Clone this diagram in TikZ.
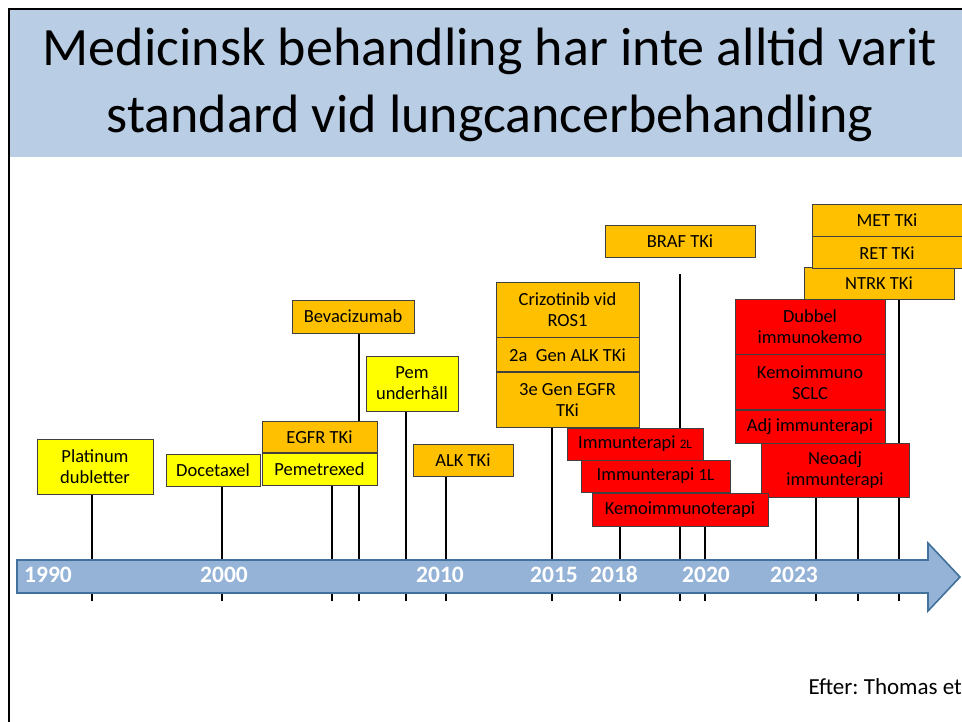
\documentclass[tikz,border=0pt]{standalone}
\usepackage{fontspec}
\setmainfont{Carlito}
\usetikzlibrary{positioning}
\definecolor{titleblue}{HTML}{B9CDE5}
\definecolor{axisblue}{HTML}{95B3D7}
\definecolor{axisedge}{HTML}{41719C}
\definecolor{cyellow}{HTML}{FFFF00}
\definecolor{corange}{HTML}{FFC000}
\definecolor{cred}{HTML}{FF0000}
\pgfdeclarelayer{bg}
\pgfsetlayers{bg,main}
\frenchspacing

\begin{document}
\begin{tikzpicture}[x=1pt,y=-1pt,
	box/.style={draw=black!75,line width=0.8pt,inner sep=0pt,align=center,
		font=\fontsize{18.5}{21}\selectfont},
	kemobox/.style={box,fill=cyellow},
	tkibox/.style={box,fill=corange},
	iobox/.style={box,fill=cred},
	year/.style={text=white,anchor=base,font=\fontsize{23.5}{26}\selectfont\bfseries},
	tick/.style={line width=1.6pt}]
	\useasboundingbox (0,0) rectangle (962,722);
	\clip (0,0) rectangle (962,722);
	% title
	\fill[titleblue] (10,10) rectangle (962,157);
	\draw[line width=2pt] (9,722) -- (9,9) -- (962,9);
	\node[anchor=base,font=\fontsize{54}{66}\selectfont] (title_1) at (490,66) {Medicinsk behandling har inte alltid varit};
	\node[anchor=base,font=\fontsize{54}{66}\selectfont] (title_2) at (490,133) {standard vid lungcancerbehandling};
	
	% drugs
	\node[kemobox,minimum width=116pt,minimum height=55pt] (plat) at (95,466.5) {Platinum\\dubletter};
	\node[kemobox,minimum width=94pt,minimum height=32pt] (doc) at (213,470) {Docetaxel};
	\node[kemobox,minimum width=115pt,minimum height=32pt] (pemetrexed) at (319.5,469) {Pemetrexed};
	\node[tkibox,minimum width=115pt,minimum height=31pt] (egfr) [above=0pt of pemetrexed] {EGFR TKi};
	\node[tkibox,minimum width=100pt,minimum height=32pt] (alk) at (463,460) {ALK TKi};
	\node[tkibox,minimum width=122pt,minimum height=33pt] (beva) at (353,316.5) {Bevacizumab};
	\node[kemobox,minimum width=92pt,minimum height=55pt] (pemund) at (412,383.5) {Pem\\underhåll};
	\node[tkibox,minimum width=143pt,minimum height=55pt] (crizo) at (567.5,309.5) {Crizotinib vid\\ROS1};
	\node[tkibox,minimum width=143pt,minimum height=34pt] (alk2) [below=0pt of crizo] {2a~ Gen ALK TKi};
	\node[tkibox,minimum width=143pt,minimum height=55pt] (egfr3) [below=0pt of alk2] {3e Gen EGFR\\TKi};
	\node[tkibox,minimum width=150pt,minimum height=32pt] (braf) at (680,241) {BRAF TKi};
	\node[tkibox,minimum width=150pt,minimum height=32pt] (ntrk) at (879,283) {NTRK TKi};
	\node[tkibox,minimum width=150pt,minimum height=32pt] (met) at (887,220) {MET TKi};
	\node[tkibox,minimum width=150pt,minimum height=32pt] (ret) [below=0pt of met] {RET TKi};
	\node[iobox,minimum width=150pt,minimum height=55pt] (dubbel) at (810,326.5) {Dubbel\\immunokemo};
	\node[iobox,minimum width=150pt,minimum height=55pt] (sclc) [below=0pt of dubbel] {Kemoimmuno\\SCLC};
	\node[iobox,minimum width=150pt,minimum height=33pt] (adj) [below=0pt of sclc] {Adj immunterapi};
	\node[iobox,minimum width=148pt,minimum height=54pt] (neoadj) at (835,470) {Neoadj\\immunterapi};
	\node[iobox,minimum width=136pt,minimum height=32pt] (imm2) at (635,444) {Immunterapi {\fontsize{13}{15}\selectfont 2L}};
	\node[iobox,minimum width=149pt,minimum height=32pt] (imm1) at (655.5,476) {Immunterapi {\fontsize{17}{19}\selectfont 1L}};
	\node[iobox,minimum width=176pt,minimum height=33pt] (kemo) at (680,509.5) {Kemoimmunoterapi};
	
	% time lines
	\begin{pgfonlayer}{bg}
	\foreach \x/\n [count=\i] in {92/plat,222/doc,332/pemetrexed,359/beva,406/pemund,446/alk,552/egfr3,620/kemo,705/kemo,816/neoadj,858/neoadj,899/ntrk}{
		\coordinate (t_\i) at (\x,601);
		\draw[tick] (t_\i) -- (t_\i |- \n.south);
	}
	\coordinate (t_braf) at (680,601);
	\coordinate (braf_end) at (680,274);
	\draw[tick] (t_braf) -- (braf_end);
	\end{pgfonlayer}
	
	% axis
	\draw[fill=axisblue,draw=axisedge,line width=1.6pt] (17,560) -- (928,560) -- (928,543) -- (960,577) -- (928,611) -- (928,593) -- (17,593) -- cycle;
	\foreach \x/\yr in {48/1990,224/2000,440/2010,554/2015,614/2018,706/2020,794/2023}
		\node[year] (y_\yr) at (\x,582) {\yr};
	
	\node[anchor=base west,font=\fontsize{23}{26}\selectfont] (src) at (805,694) {Efter: Thomas et};
\end{tikzpicture}
\end{document}
